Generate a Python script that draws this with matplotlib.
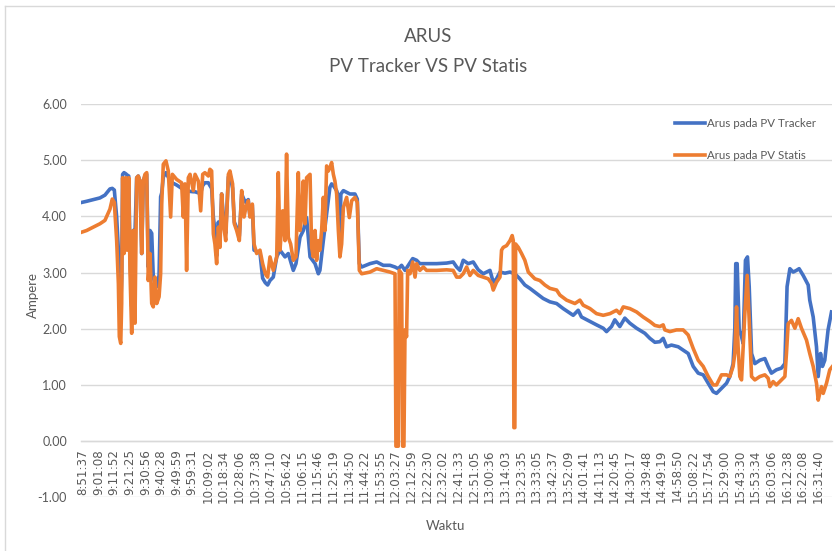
import matplotlib as mpl
mpl.use("Agg")
import matplotlib.pyplot as plt
from matplotlib.lines import Line2D

# category labels along the x axis (one every tick)
time_labels = [
    "8:51:37", "9:01:08", "9:11:52", "9:21:25", "9:30:56", "9:40:28", "9:49:59", "9:59:31",
    "10:09:02", "10:18:34", "10:28:06", "10:37:38", "10:47:10", "10:56:42", "11:06:15", "11:15:46",
    "11:25:19", "11:34:50", "11:44:22", "11:53:55", "12:03:27", "12:12:59", "12:22:30", "12:32:02",
    "12:41:33", "12:51:05", "13:00:36", "13:14:03", "13:23:35", "13:33:05", "13:42:37", "13:52:09",
    "14:01:41", "14:11:13", "14:20:45", "14:30:17", "14:39:48", "14:49:19", "14:58:50", "15:08:22",
    "15:17:54", "15:29:00", "15:43:30", "15:53:34", "16:03:06", "16:12:38", "16:22:08", "16:31:40",
]

# position along the category axis (in label steps) and current in ampere
pos_tracker = [
    -0.07, 0.25, 0.68, 1.10, 1.42, 1.74, 1.89, 2.02, 2.17, 2.28, 2.34, 2.43, 2.49, 2.55, 2.64,
    2.75, 2.83, 2.94, 3.02, 3.13, 3.23, 3.34, 3.45, 3.55, 3.66, 3.77, 3.87, 3.98, 4.09, 4.19,
    4.30, 4.41, 4.51, 4.62, 4.73, 4.88, 4.98, 5.05, 5.15, 5.32, 5.47, 5.62, 5.73, 6.00, 6.32,
    6.43, 6.54, 6.75, 7.07, 7.18, 7.39, 7.54, 7.67, 7.81, 8.03, 8.13, 8.24, 8.35, 8.45, 8.56,
    8.67, 8.77, 8.88, 8.99, 9.14, 9.31, 9.41, 9.58, 9.69, 9.84, 10.01, 10.16, 10.31, 10.43, 10.58,
    10.69, 10.84, 10.95, 11.12, 11.33, 11.50, 11.67, 11.82, 11.97, 12.18, 12.40, 12.61, 12.93, 13.14,
    13.46, 13.63, 13.89, 14.10, 14.31, 14.53, 14.85, 15.06, 15.16, 15.38, 15.59, 15.80, 15.91, 16.02,
    16.23, 16.40, 16.44, 16.50, 16.66, 17.08, 17.40, 17.55, 17.68, 17.83, 18.36, 18.79, 19.21, 19.64,
    19.96, 20.17, 20.38, 20.60, 20.81, 21.09, 21.34, 21.55, 21.98, 22.62, 23.26, 23.68, 23.90, 24.11,
    24.32, 24.64, 24.96, 25.28, 25.60, 26.03, 26.24, 26.45, 26.67, 26.99, 27.31, 27.62, 27.94, 28.26,
    28.58, 29.01, 29.43, 29.86, 30.29, 30.71, 31.35, 31.67, 31.88, 32.42, 32.84, 33.27, 33.48, 33.80,
    34.01, 34.33, 34.65, 34.97, 35.40, 35.93, 36.25, 36.57, 36.89, 37.10, 37.32, 37.63, 38.06, 38.38,
    38.70, 39.02, 39.34, 39.66, 39.98, 40.30, 40.51, 40.83, 41.15, 41.36, 41.57, 41.68, 41.74, 41.83,
    41.96, 42.11, 42.21, 42.36, 42.49, 42.60, 42.75, 42.96, 43.28, 43.60, 43.81, 44.02, 44.34, 44.66,
    44.88, 45.02, 45.20, 45.41, 45.62, 45.79, 46.05, 46.37, 46.47, 46.69, 46.90, 47.01, 47.16, 47.28,
    47.43, 47.64, 47.86,
]
val_tracker = [
    4.25, 4.27, 4.30, 4.33, 4.38, 4.49, 4.50, 4.47, 3.99, 3.40, 2.86, 2.40, 2.90, 4.75, 4.78,
    4.76, 4.74, 4.72, 3.40, 2.40, 3.75, 3.70, 4.69, 4.72, 4.63, 3.34, 4.63, 4.72, 4.75, 3.10,
    3.75, 3.70, 2.92, 2.80, 2.75, 2.95, 4.35, 4.42, 4.70, 4.78, 4.70, 4.62, 4.60, 4.56, 4.50,
    4.48, 4.46, 4.45, 4.44, 4.44, 4.42, 4.42, 4.55, 4.60, 4.60, 4.55, 4.50, 3.99, 3.75, 3.30,
    3.90, 3.60, 4.40, 4.00, 3.70, 4.70, 4.75, 4.50, 3.90, 3.80, 3.65, 4.40, 4.30, 4.25, 4.30,
    4.00, 4.20, 3.40, 3.38, 3.35, 2.90, 2.82, 2.78, 2.86, 2.92, 3.28, 3.40, 3.28, 3.34,
    3.04, 3.16, 3.63, 3.75, 3.98, 3.28, 3.16, 2.98, 3.04, 3.57, 4.04, 4.52, 4.58, 4.55,
    4.46, 4.30, 3.63, 4.40, 4.46, 4.40, 4.40, 4.31, 3.16, 3.10, 3.16, 3.19, 3.13, 3.13,
    3.10, 3.07, 3.13, 3.04, 3.13, 3.25, 3.22, 3.16, 3.16, 3.16, 3.17, 3.19, 3.10, 3.04,
    3.22, 3.16, 3.19, 3.05, 2.98, 3.04, 2.83, 2.89, 3.01, 2.99, 3.01, 2.98, 2.89, 2.78,
    2.72, 2.63, 2.54, 2.48, 2.45, 2.36, 2.24, 2.33, 2.21, 2.13, 2.07, 2.01, 1.95, 2.04,
    2.16, 2.04, 2.19, 2.10, 2.01, 1.92, 1.83, 1.76, 1.77, 1.83, 1.68, 1.71, 1.68, 1.62,
    1.56, 1.33, 1.21, 1.18, 1.03, 0.88, 0.85, 0.94, 1.03, 1.15, 1.38, 2.00, 3.16, 3.16,
    1.98, 1.86, 1.74, 3.22, 3.28, 2.75, 1.56, 1.38, 1.44, 1.47, 1.33, 1.21, 1.27, 1.30,
    1.38, 2.75, 3.07, 3.01, 3.04, 3.07, 2.95, 2.78, 2.51, 2.21, 1.68, 1.15, 1.56, 1.33,
    1.44, 1.98, 2.30,
]

pos_statis = [
    -0.07, 0.25, 0.68, 1.10, 1.42, 1.74, 1.89, 2.02, 2.17, 2.28, 2.34, 2.43, 2.49, 2.55, 2.64,
    2.75, 2.83, 2.94, 3.02, 3.13, 3.23, 3.34, 3.45, 3.55, 3.66, 3.77, 3.87, 3.98, 4.09, 4.19,
    4.30, 4.41, 4.51, 4.62, 4.73, 4.88, 4.98, 5.05, 5.15, 5.32, 5.47, 5.62, 5.73, 6.00, 6.32,
    6.43, 6.54, 6.64, 6.75, 6.86, 7.07, 7.18, 7.39, 7.54, 7.67, 7.81, 8.03, 8.13, 8.24, 8.35,
    8.45, 8.56, 8.67, 8.77, 8.88, 8.99, 9.14, 9.31, 9.41, 9.58, 9.69, 9.84, 10.01, 10.16, 10.31,
    10.43, 10.58, 10.69, 10.84, 10.95, 11.12, 11.33, 11.50, 11.67, 11.82, 11.97, 12.18, 12.40, 12.50,
    12.61, 12.78, 12.93, 13.03, 13.14, 13.29, 13.46, 13.63, 13.78, 13.89, 13.99, 14.10, 14.21, 14.31,
    14.42, 14.53, 14.63, 14.74, 14.85, 14.95, 15.06, 15.16, 15.27, 15.38, 15.48, 15.59, 15.70, 15.80,
    15.91, 16.02, 16.12, 16.23, 16.34, 16.44, 16.55, 16.66, 16.87, 17.04, 17.19, 17.40, 17.55, 17.68,
    17.83, 18.36, 18.79, 19.21, 19.64, 19.96, 20.02, 20.17, 20.23, 20.38, 20.45, 20.53, 20.60, 20.70,
    20.77, 20.92, 21.09, 21.24, 21.34, 21.55, 21.77, 21.98, 22.62, 23.26, 23.68, 23.90, 24.11, 24.32,
    24.54, 24.75, 24.96, 25.28, 25.60, 25.92, 26.13, 26.24, 26.45, 26.67, 26.77, 26.88, 27.09, 27.31,
    27.45, 27.52, 27.56, 27.62, 27.67, 27.84, 28.05, 28.26, 28.48, 28.69, 28.90, 29.22, 29.54, 29.86,
    30.29, 30.50, 30.93, 31.46, 31.78, 31.99, 32.42, 32.84, 33.27, 33.70, 34.12, 34.33, 34.55, 34.97,
    35.40, 35.82, 36.25, 36.57, 36.89, 37.10, 37.21, 37.53, 37.95, 38.38, 38.70, 39.02, 39.34, 39.66,
    39.98, 40.30, 40.51, 40.83, 41.15, 41.36, 41.57, 41.68, 41.79, 41.89, 42.00, 42.11, 42.32, 42.47,
    42.60, 42.75, 42.96, 43.28, 43.60, 43.81, 43.92, 44.13, 44.34, 44.66, 44.88, 44.98, 45.09, 45.30,
    45.52, 45.73, 45.94, 46.26, 46.47, 46.69, 46.90, 47.01, 47.11, 47.22, 47.33, 47.54, 47.75, 47.92,
]
val_statis = [
    3.72, 3.75, 3.81, 3.87, 3.93, 4.13, 4.31, 4.25, 3.57, 2.80, 1.86, 1.74, 2.45, 4.69, 3.34,
    4.69, 3.40, 4.69, 3.04, 1.92, 3.75, 2.10, 4.69, 4.72, 4.63, 3.34, 4.63, 4.75, 4.78, 2.86,
    3.34, 2.45, 2.39, 2.92, 2.45, 2.57, 2.98, 4.22, 4.93, 4.99, 4.81, 3.99, 4.75, 4.66, 4.60,
    3.99, 4.58, 3.04, 4.69, 4.75, 4.46, 4.75, 4.63, 4.10, 4.75, 4.78, 4.72, 4.84, 4.81, 3.69,
    3.51, 3.16, 3.81, 3.45, 4.40, 3.87, 3.57, 4.75, 4.81, 4.58, 3.87, 3.75, 3.57, 4.46, 3.99,
    4.16, 4.28, 3.99, 4.22, 3.51, 3.34, 3.40, 3.16, 2.98, 2.92, 3.28, 3.04, 3.28, 4.78,
    3.40, 4.10, 3.57, 5.11, 3.63, 3.51, 3.22, 3.28, 4.78, 3.75, 3.98, 4.63, 3.87, 4.69,
    4.72, 4.75, 3.45, 3.28, 3.75, 3.22, 3.57, 3.40, 3.75, 4.34, 3.75, 4.90, 4.81, 4.87,
    4.96, 4.75, 4.63, 4.40, 3.75, 3.28, 3.51, 4.16, 4.34, 3.98, 4.28, 4.34, 4.25, 3.04,
    2.98, 3.01, 3.07, 3.04, 3.01, 2.98, -0.09, -0.09, 3.04, 2.98, -0.09, -0.09, 1.98, 1.86,
    3.04, 2.98, 3.19, 2.92, 3.16, 3.04, 3.10, 3.04, 3.04, 3.05, 3.04, 2.92, 2.92, 2.98,
    3.10, 2.95, 3.04, 2.95, 2.92, 2.89, 2.81, 2.69, 2.83, 2.92, 3.40, 3.45, 3.48, 3.57,
    3.66, 3.57, 0.24, 0.24, 3.51, 3.45, 3.34, 3.22, 3.01, 2.95, 2.89, 2.86, 2.78, 2.72,
    2.69, 2.60, 2.51, 2.45, 2.51, 2.42, 2.36, 2.27, 2.24, 2.27, 2.33, 2.27, 2.39, 2.36,
    2.30, 2.21, 2.13, 2.06, 2.04, 2.07, 1.98, 1.95, 1.98, 1.98, 1.89, 1.65, 1.44, 1.33,
    1.15, 1.00, 1.00, 1.18, 1.18, 1.15, 1.33, 1.56, 2.39, 1.68, 1.15, 1.09, 2.27, 2.95,
    2.15, 1.15, 1.09, 1.15, 1.18, 1.12, 0.97, 1.06, 1.00, 1.09, 1.15, 1.56, 2.09, 2.15,
    2.01, 2.18, 2.01, 1.80, 1.56, 1.33, 1.03, 0.73, 0.85, 0.97, 0.85, 1.03, 1.27, 1.33,
]

y_ticks = [-1, 0, 1, 2, 3, 4, 5, 6]

blue = "#4472C4"
orange = "#ED7D31"
grey_text = "#595959"
grid_col = "#D9D9D9"

plt.rcParams["font.family"] = ["Lato", "DejaVu Sans"]

fig = plt.figure(figsize=(8.35, 5.51), dpi=100)
ax = fig.add_axes([0.097, 0.0975, 0.899, 0.7135])

# spine position first: moving it resets the tick labels
for s in ("top", "right", "left"):
    ax.spines[s].set_visible(False)
ax.spines["bottom"].set_position(("data", 0))
ax.spines["bottom"].set_color(grid_col)
ax.spines["bottom"].set_linewidth(1.0)

ax.plot(pos_tracker, val_tracker, color=blue, linewidth=2.6, solid_joinstyle="round", zorder=3)
ax.plot(pos_statis, val_statis, color=orange, linewidth=2.6, solid_joinstyle="round", zorder=4)

ax.set_ylim(-1, 6)
ax.set_xlim(-0.11, 47.87)
ax.set_yticks(y_ticks)
ax.set_yticklabels([f"{v:.2f}" for v in y_ticks], color=grey_text, fontsize=9)
ax.set_xticks(range(len(time_labels)))
ax.set_xticklabels(time_labels, rotation=90, color=grey_text, fontsize=8.6,
                   family="DejaVu Sans")
ax.tick_params(axis="both", length=0)
ax.tick_params(axis="x", pad=6)
ax.tick_params(axis="y", pad=10)

ax.grid(axis="y", color=grid_col, linewidth=1.0, zorder=0)

fig.text(0.513, 0.933, "ARUS", ha="center", va="center", fontsize=13.5, color=grey_text)
fig.text(0.513, 0.879, "PV Tracker VS PV Statis", ha="center", va="center", fontsize=13.5,
         color=grey_text)
fig.text(0.040, 0.465, "Ampere", rotation=90, ha="center", va="center", fontsize=9.5,
         color=grey_text)
fig.text(0.533, 0.045, "Waktu", ha="center", va="center", fontsize=9.5, color=grey_text)

handles = [Line2D([], [], color=blue, linewidth=2.6), Line2D([], [], color=orange, linewidth=2.6)]
fig.legend(handles, ["Arus pada PV Tracker", "Arus pada PV Statis"], loc="upper left",
           bbox_to_anchor=(0.803, 0.795), frameon=False, fontsize=8.3, labelcolor=grey_text,
           handlelength=2.6, handletextpad=0.2, labelspacing=1.9, borderaxespad=0)

# chart area border (only top and left edges are visible in the source)
fig.add_artist(Line2D([5 / 835, 5 / 835], [0, 1 - 6 / 551], color=grid_col, linewidth=1.0,
                      transform=fig.transFigure))
fig.add_artist(Line2D([5 / 835, 1], [1 - 6 / 551, 1 - 6 / 551], color=grid_col, linewidth=1.0,
                      transform=fig.transFigure))

fig.savefig("out.png", dpi=100)
